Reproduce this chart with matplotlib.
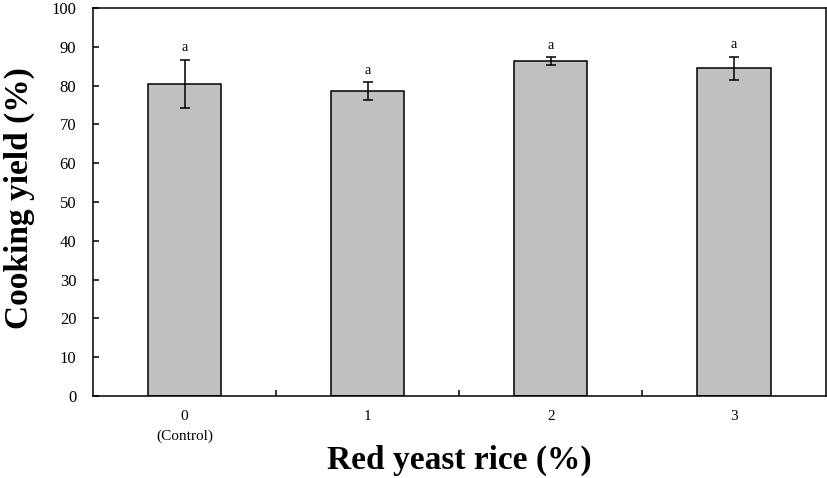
import matplotlib.pyplot as plt

plt.rcParams['font.family'] = ['Liberation Serif', 'DejaVu Serif']

# Data
categories = ['0\n(Control)', '1', '2', '3']
cooking_yield = [80.4, 78.6, 86.3, 84.5]
std_err = [6.3, 2.2, 1.0, 3.0]
letters = ['a', 'a', 'a', 'a']

fig = plt.figure(figsize=(8.27, 4.78), dpi=100)
ax = fig.add_axes([93 / 827, 1 - 396 / 478, 732.5 / 827, 388 / 478])

x = list(range(len(categories)))
ax.bar(x, cooking_yield, width=0.4, color='#c0c0c0', edgecolor='black',
       linewidth=1.1, zorder=2)
ax.errorbar(x, cooking_yield, yerr=std_err, fmt='none', ecolor='black',
            elinewidth=1.1, capsize=3.5, capthick=1.1, zorder=3)

for xi, v, e, s in zip(x, cooking_yield, std_err, letters):
    ax.annotate(s, (xi, v + e), xytext=(0, 4), textcoords='offset points',
                ha='center', va='bottom', fontsize=10)

ax.set_xlim(-0.5, len(categories) - 0.5)
ax.set_ylim(0, 100)
ax.set_yticks(range(0, 101, 10))

# category labels, tick marks between categories
ax.set_xticks(x)
ax.set_xticklabels(categories, fontsize=11, linespacing=1.6)
ax.tick_params(axis='x', which='major', length=0, pad=10)
ax.set_xticks([0.5, 1.5, 2.5], minor=True)
ax.tick_params(axis='x', which='minor', direction='in', length=4, width=1.1)
ax.tick_params(axis='y', direction='in', length=4, width=1.1, labelsize=12,
               pad=12)

for sp in ax.spines.values():
    sp.set_linewidth(1.1)

ax.set_xlabel('Red yeast rice (%)', fontsize=24, fontweight='bold', va='center')
ax.xaxis.set_label_coords(0.5, -0.165)
ax.set_ylabel('Cooking yield (%)', fontsize=24, fontweight='bold', va='center')
ax.yaxis.set_label_coords(-0.101, 0.51)

fig.savefig('out.png', dpi=100)
